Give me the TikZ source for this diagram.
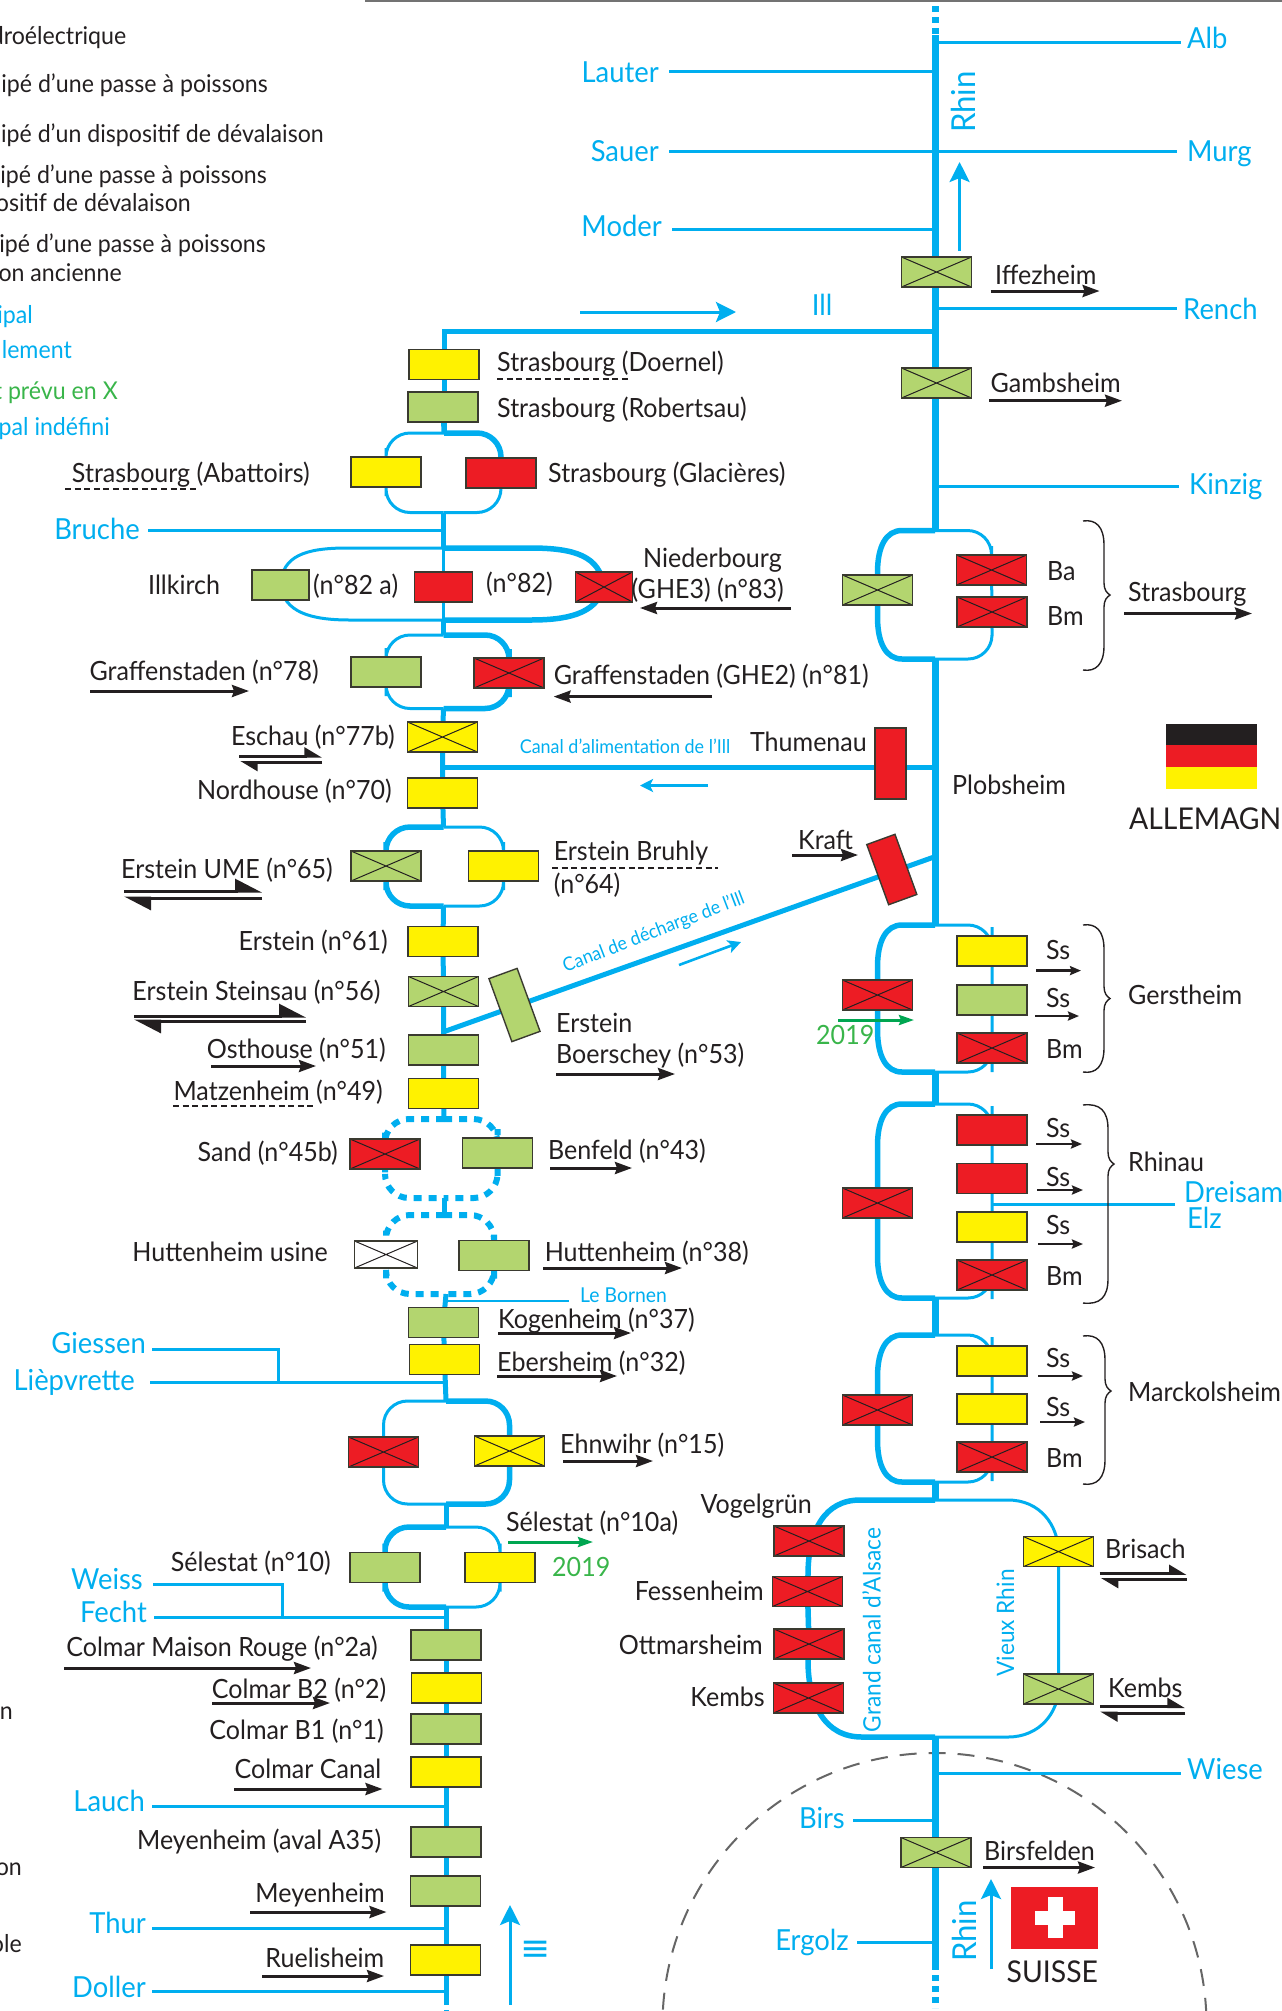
\documentclass[tikz,border=0pt]{standalone}
\usepackage{fontspec}
\setmainfont[FakeStretch=0.945]{Lato}
\newfontfamily\symfont{DejaVu Sans}
\usetikzlibrary{arrows.meta,calc}
\definecolor{riv}{HTML}{00AEEF}
\definecolor{rd}{HTML}{ED1C24}
\definecolor{yl}{HTML}{FFF200}
\definecolor{gn}{HTML}{B3D56F}
\definecolor{ink}{HTML}{231F20}
\definecolor{gtx}{HTML}{39B54A}
\definecolor{gar}{HTML}{00A651}
\definecolor{edge}{HTML}{3A3A30}
\pgfdeclarelayer{bg}
\pgfsetlayers{bg,main}
\tikzset{
 dam/.style={draw=edge,line width=1.4pt,minimum width=70pt,minimum height=30pt,inner sep=0pt,outer sep=0pt},
 damY/.style={dam,fill=yl},
 damG/.style={dam,fill=gn},
 damR/.style={dam,fill=rd},
 xbox/.style={path picture={\draw[line width=1pt,ink]
   (path picture bounding box.north west)--(path picture bounding box.south east)
   (path picture bounding box.north east)--(path picture bounding box.south west);}},
 lbl/.style={font=\fontsize{26.5}{30}\selectfont,text=ink,inner sep=0pt,text height=21pt,text depth=3pt},
 rname/.style={font=\fontsize{29}{32}\selectfont,text=riv,inner sep=0pt,text height=23pt,text depth=4pt},
 leg/.style={font=\fontsize{24.5}{28}\selectfont,text=ink,inner sep=0pt,text height=18pt,text depth=4pt},
 rivMain/.style={draw=riv,line width=7pt},
 rivAxis/.style={draw=riv,line width=5pt},
 rivBold/.style={draw=riv,line width=5.5pt},
 rivThin/.style={draw=riv,line width=3pt},
 rivDash/.style={draw=riv,line width=6pt,dash pattern=on 8pt off 7pt},
 rc/.style={rounded corners=24pt},
 flow/.style={draw=ink,line width=3pt,-{Stealth[length=17pt,width=12pt,inset=2pt]}},
 flowS/.style={draw=ink,line width=2.4pt,-{Stealth[length=11pt,width=9pt,inset=1.5pt]}},
 flowH/.style={draw=ink,line width=3pt,-{Stealth[harpoon,length=24pt,width=24pt,inset=0pt]}},
 flowHs/.style={draw=ink,line width=3pt,-{Stealth[harpoon,length=15pt,width=17pt,inset=0pt]}},
 dashu/.style={draw=ink,line width=2.4pt,dash pattern=on 6pt off 3.6pt},
 gflow/.style={draw=gar,line width=3pt,-{Stealth[length=15pt,width=10pt,inset=2pt]}},
 barr/.style={draw=riv,line width=3pt,-{Stealth[length=20pt,width=20pt,inset=4pt]}},
 barrS/.style={draw=riv,line width=2.6pt,-{Stealth[length=13pt,width=13pt,inset=3pt]}},
 braceL/.style={draw=ink,line width=1.4pt},
}
\newcommand{\TW}[5][lbl]{\node[#1,anchor=west] (#2) at (#3,#4) {#5};}
\newcommand{\TE}[5][lbl]{\node[#1,anchor=east] (#2) at (#3,#4) {#5};}
\newcommand{\Fl}[4][flow]{\coordinate (fa) at (#2,#4);\coordinate (fb) at (#3,#4);\draw[#1] (fa) -- (fb);}
\newcommand{\Bra}[6]{\draw[braceL] (#1,#3) .. controls (#2-8,#3-2) and (#2,#3+6) .. (#2,#3+24) -- (#2,#4-12) .. controls (#2,#4-5) and (#2+3,#4-2) .. (#2+6,#4) .. controls (#2+3,#4+2) and (#2,#4+5) .. (#2,#4+12) -- (#2,#5-24) .. controls (#2,#5-6) and (#2-8,#5+2) .. (#1,#5);}
\newcommand{\EllL}[6]{\draw[#1] (#2) -- (902,#5) .. controls (886,#5) and (877.5,#5+16) .. (877.5,#5+42) -- (#4) -- (877.5,#6-42) .. controls (877.5,#6-16) and (886,#6) .. (902,#6) -- (#3);}
\begin{document}
\begin{tikzpicture}[x=1pt,y=-1pt]
\useasboundingbox (0,0) rectangle (1282,2011);
\clip (0,0) rectangle (1282,2011);

% ---------- junctions
\coordinate (rTop) at (935,35);
\coordinate (rDot) at (935,6);
\coordinate (jAlb) at (935,42.7);
\coordinate (jLauter) at (935,71);
\coordinate (jSauer) at (935,151);
\coordinate (jModer) at (935,229);
\coordinate (jRench) at (935,308);
\coordinate (jIll) at (935,331);
\coordinate (aTop) at (444,331);
\coordinate (jKinzig) at (935,486);
\coordinate (sT) at (935,530.5);
\coordinate (sB) at (935,659);
\coordinate (jCanal) at (935,767);
\coordinate (aCanal) at (443,767);
\coordinate (jKraft) at (934,857);
\coordinate (aDech) at (443,1032);
\coordinate (gT) at (935,925);
\coordinate (gB) at (935,1072);
\coordinate (rhT) at (935,1104);
\coordinate (rhB) at (935,1298);
\coordinate (mT) at (935,1335);
\coordinate (mB) at (935,1482);
\coordinate (cT) at (935,1500);
\coordinate (cB) at (935,1737);
\coordinate (jWiese) at (935,1773);
\coordinate (jBirs) at (935,1820);
\coordinate (jErgolz) at (935,1942);
\coordinate (rEnd) at (935,1964);
\coordinate (rEndD) at (935,2008);
\coordinate (a1T) at (444,433);
\coordinate (a1B) at (443.5,512.5);
\coordinate (jBruche) at (443.5,530);
\coordinate (a2T) at (443.5,548);
\coordinate (a2B) at (443.5,620);
\coordinate (a3T) at (443.5,635);
\coordinate (a3B) at (443.5,708.5);
\coordinate (a4T) at (443.5,827);
\coordinate (a4B) at (443.5,906);
\coordinate (a5T) at (444,1119);
\coordinate (a5B) at (444,1198);
\coordinate (a6T) at (444,1215);
\coordinate (a6B) at (444,1294);
\coordinate (a6c) at (446,1294);
\coordinate (jBornen) at (446,1301);
\coordinate (jLiep) at (446,1382);
\coordinate (a7T) at (446,1401);
\coordinate (a7B) at (446,1504);
\coordinate (a8T) at (446,1527);
\coordinate (a8B) at (446,1607);
\coordinate (jFecht) at (446,1617);
\coordinate (jLauch) at (446,1806);
\coordinate (jThur) at (446,1928);
\coordinate (jDoller) at (446,1991);
\coordinate (aEnd) at (446,2000);
\coordinate (aEndD) at (446,2011);
\coordinate (bendG) at (278,1349);
\coordinate (bendGb) at (278,1382);
\coordinate (bendW) at (282,1584);
\coordinate (bendWb) at (282,1617);

% ---------- dams, left branch
\node[damY] (dDoernel) at (444,364.5) {};
\node[damG] (dRobert) at (443,407) {};
\node[damY] (dAbat) at (386,472) {};
\node[damR] (dGlac) at (501,473) {};
\node[damG,minimum width=57pt] (dIllk) at (280.5,585) {};
\node[damR,minimum width=58pt] (d82) at (443.5,587) {};
\node[damR,xbox,minimum width=57pt] (d83) at (604,587) {};
\node[damG] (d78) at (386,672) {};
\node[damR,xbox] (d81) at (509,673) {};
\node[damY,xbox] (d77) at (442.5,737) {};
\node[damY] (d70) at (442.5,793) {};
\node[damG,xbox] (d65) at (386,866) {};
\node[damY] (d64) at (503.5,866) {};
\node[damY] (d61) at (443,941.5) {};
\node[damG,xbox] (d56) at (443.5,991.5) {};
\node[damG,rotate=20,minimum width=30pt,minimum height=67pt] (d53) at (514.5,1005) {};
\node[damG] (d51) at (443.5,1050) {};
\node[damY] (d49) at (443.5,1093.5) {};
\node[damR,xbox] (d45) at (385,1154) {};
\node[damG] (d43) at (497.5,1153) {};
\node[dam,fill=white,xbox,minimum width=63pt,minimum height=27pt] (dHu) at (386,1254.5) {};
\node[damG] (d38) at (494,1255.5) {};
\node[damG] (d37) at (443.5,1322.5) {};
\node[damY] (d32) at (444.5,1359.5) {};
\node[damR,xbox] (dEhL) at (383.5,1452) {};
\node[damY,xbox] (d15) at (509.5,1451) {};
\node[damG] (d10) at (385,1567.5) {};
\node[damY] (d10a) at (500,1567.5) {};
\node[damG] (d2a) at (446,1645) {};
\node[damY] (d2) at (446.5,1688) {};
\node[damG] (d1) at (446,1729) {};
\node[damY] (dCan) at (446,1772) {};
\node[damG] (dA35) at (446,1842) {};
\node[damG] (dMey) at (445.5,1891) {};
\node[damY] (dRue) at (445.5,1960) {};

% ---------- dams, right branch
\node[damG,xbox] (dIff) at (936.5,272) {};
\node[damG,xbox] (dGam) at (936.5,383) {};
\node[damG,xbox] (dSL) at (877.5,590) {};
\node[damR,xbox] (dBa) at (991.5,570) {};
\node[damR,xbox] (dBm) at (992,612) {};
\node[damR,minimum width=31pt,minimum height=71pt] (dThu) at (890.5,763.5) {};
\node[damR,rotate=20,minimum width=30pt,minimum height=64pt] (dKraft) at (891.8,869.5) {};
\node[damR,xbox] (dGeL) at (877.5,995) {};
\node[damY] (dGe1) at (992,951) {};
\node[damG] (dGe2) at (992,1000) {};
\node[damR,xbox] (dGe3) at (992,1048) {};
\node[damR,xbox] (dRhL) at (877.5,1203) {};
\node[damR] (dRh1) at (992,1130) {};
\node[damR] (dRh2) at (992,1178.5) {};
\node[damY] (dRh3) at (992,1227) {};
\node[damR,xbox] (dRh4) at (992,1275) {};
\node[damR,xbox] (dMaL) at (877.5,1410) {};
\node[damY] (dMa1) at (992,1361) {};
\node[damY] (dMa2) at (992,1409) {};
\node[damR,xbox] (dMa3) at (992,1457) {};
\node[damR,xbox] (dVog) at (809,1541) {};
\node[damR,xbox] (dFes) at (807.5,1591.5) {};
\node[damR,xbox] (dOtt) at (809,1644) {};
\node[damR,xbox] (dKeL) at (808.5,1698) {};
\node[damY,xbox] (dBri) at (1058.5,1551.6) {};
\node[damG,xbox] (dKeR) at (1058.5,1689) {};
\node[damG,xbox] (dBir) at (936,1852.5) {};

% ---------- river names
\TE[rname]{lLauter}{659}{73}{Lauter}
\TE[rname]{lSauer}{659}{152}{Sauer}
\TE[rname]{lModer}{662}{227}{Moder}
\TW[rname]{lAlb}{1187}{39}{Alb}
\TW[rname]{lMurg}{1187}{152}{Murg}
\TW[rname]{lRench}{1183}{310}{Rench}
\TW[rname]{lKinzig}{1189}{485}{Kinzig}
\TE[rname]{lBruche}{140}{530}{Bruche}
\TE[rname]{lGiessen}{146}{1344}{Giessen}
\TE[rname]{lLiep}{135}{1381}{Lièpvrette}
\TE[rname]{lWeiss}{143}{1580}{Weiss}
\TE[rname]{lFecht}{147}{1613}{Fecht}
\TE[rname]{lLauch}{145}{1802}{Lauch}
\TE[rname]{lThur}{146}{1924}{Thur}
\TE[rname]{lDoller}{146}{1988}{Doller}
\TW[rname]{lDreisam}{1184}{1193}{Dreisam}
\TW[rname]{lElz}{1187}{1219}{Elz}
\TW[rname]{lWiese}{1187}{1770}{Wiese}
\TE[rname]{lBirs}{845}{1819}{Birs}
\TE[rname]{lErgolz}{849}{1941}{Ergolz}
\node[rname,rotate=90,font=\fontsize{33}{36}\selectfont] (tRhinN) at (966,102) {Rhin};
\node[rname,rotate=90,font=\fontsize{33}{36}\selectfont] (tRhinS) at (967,1931) {Rhin};
\node[rname] (tIll) at (822,306) {Ill};
\node[rname,font=\fontsize{24}{28}\selectfont,rotate=90] (tGCA) at (871,1630) {Grand canal d'Alsace};
\node[rname,font=\fontsize{24}{28}\selectfont,rotate=90] (tVR) at (1004.5,1623) {Vieux Rhin};
\node[rname,font=\fontsize{19}{22}\selectfont,text height=14pt,text depth=4pt] (tCanA) at (625,748) {Canal d'alimentation de l'Ill};
\node[rname,font=\fontsize{18.8}{22}\selectfont,rotate=21,text height=14pt,text depth=4pt] (tCanD) at (654,933) {Canal de décharge de l'Ill};
\TW[{rname,font=\fontsize{20.5}{24}\selectfont,text height=15pt,text depth=4pt}]{tBornen}{580}{1297}{Le Bornen}

% ---------- black labels
\TW{tDoe}{497}{362}{Strasbourg (Doernel)}
\TW{tRob}{497}{408}{Strasbourg (Robertsau)}
\TE{tAba}{310}{473}{Strasbourg (Abattoirs)}
\TW{tGla}{548}{473}{Strasbourg (Glacières)}
\TW{tIllk}{148}{585}{Illkirch}
\TW{t82a}{313}{585}{(n°82 a)}
\TW{t82}{486}{583}{(n°82)}
\TW{tNie}{643}{558}{Niederbourg}
\TE{t83}{784}{589}{(GHE3) (n°83)}
\TE{t78}{319}{671}{Graffenstaden (n°78)}
\TW{t81}{553.6}{675}{Graffenstaden (GHE2) (n°81)}
\TE{t77}{395}{736}{Eschau (n°77b)}
\TE{t70}{392}{790}{Nordhouse (n°70)}
\TE{t65}{333}{869}{Erstein UME (n°65)}
\TW{t64a}{553.6}{851}{Erstein Bruhly}
\TW{t64b}{553.6}{884}{(n°64)}
\TE{t61}{388}{941}{Erstein (n°61)}
\TE{t56}{380.6}{991}{Erstein Steinsau (n°56)}
\TE{t51}{386}{1049}{Osthouse (n°51)}
\TW{t53a}{556}{1023}{Erstein}
\TW{t53b}{556}{1054}{Boerschey (n°53)}
\TE{t49}{383}{1091}{Matzenheim (n°49)}
\TE{t45}{338}{1152}{Sand (n°45b)}
\TW{t43}{548}{1150}{Benfeld (n°43)}
\TE{tHu}{328}{1252}{Huttenheim usine}
\TW{t38}{544.6}{1252}{Huttenheim (n°38)}
\TW{t37}{498}{1319}{Kogenheim (n°37)}
\TW{t32}{497}{1362}{Ebersheim (n°32)}
\TW{t15}{560}{1444}{Ehnwihr (n°15)}
\TW{t10a}{506}{1522}{Sélestat (n°10a)}
\TE{t10}{331}{1562}{Sélestat (n°10)}
\TE{t2a}{378}{1647}{Colmar Maison Rouge (n°2a)}
\TE{t2}{386.5}{1689}{Colmar B2 (n°2)}
\TE{t1}{384}{1730}{Colmar B1 (n°1)}
\TE{tCan}{381.6}{1769}{Colmar Canal}
\TE{tA35}{381.6}{1840}{Meyenheim (aval A35)}
\TE{tMey}{385}{1893}{Meyenheim}
\TE{tRue}{384.5}{1958}{Ruelisheim}
\TW{tIff}{995}{275}{Iffezheim}
\TW{tGam}{990.5}{383}{Gambsheim}
\TW{tBa}{1047}{571}{Ba}
\TW{tBmS}{1047}{616}{Bm}
\TW{tStr}{1128}{592}{Strasbourg}
\TE{tThu}{867}{742}{Thumenau}
\TW{tPlo}{952}{785}{Plobsheim}
\TW{tKra}{798}{840}{Kraft}
\TW{tS1}{1046}{950}{Ss}
\TW{tS2}{1046}{998.5}{Ss}
\TW{tBmG}{1046}{1049.5}{Bm}
\TW{tGer}{1128}{995.5}{Gerstheim}
\TW{tS3}{1046}{1128}{Ss}
\TW{tS4}{1046}{1177}{Ss}
\TW{tS5}{1046}{1225}{Ss}
\TW{tBmR}{1046}{1276}{Bm}
\TW{tRhi}{1128}{1162}{Rhinau}
\TW{tS6}{1046}{1358}{Ss}
\TW{tS7}{1046}{1407}{Ss}
\TW{tBmM}{1046}{1458}{Bm}
\TW{tMar}{1128}{1392}{Marckolsheim}
\TE{tVog}{812}{1504}{Vogelgrün}
\TE{tFes}{764}{1591}{Fessenheim}
\TE{tOtt}{763}{1645}{Ottmarsheim}
\TE{tKeL}{765}{1697}{Kembs}
\TW{tBri}{1105}{1549.5}{Brisach}
\TW{tKeR}{1108}{1688}{Kembs}
\TW{tBir}{984}{1851}{Birsfelden}
\TW[{lbl,font=\fontsize{30}{34}\selectfont,text height=23pt,text depth=3pt}]{tDE}{1129}{819}{ALLEMAGN}
\TW[{lbl,font=\fontsize{30}{34}\selectfont,text height=23pt,text depth=3pt}]{tCH}{1006.5}{1972}{SUISSE}
\TW[{lbl,text=gtx}]{t2019a}{816}{1035}{2019}
\TW[{lbl,text=gtx}]{t2019b}{552}{1567}{2019}

% ---------- clipped legend fragments
\TE[leg]{lg1}{126.5}{37}{droélectrique}
\TE[leg]{lg2}{268}{85}{uipé d'une passe à poissons}
\TE[leg]{lg3}{324}{135}{uipé d'un dispositif de dévalaison}
\TE[leg]{lg4}{267}{176}{uipé d'une passe à poissons}
\TE[leg]{lg5}{191}{204}{ositif de dévalaison}
\TE[leg]{lg6}{266}{245}{uipé d'une passe à poissons}
\TE[leg]{lg7}{122}{274}{on ancienne}
\TE[{leg,text=riv}]{lg8}{33}{316}{ipal}
\TE[{leg,text=riv}]{lg9}{72}{351}{lement}
\TE[{leg,text=gtx}]{lg10}{118}{392}{t prévu en X}
\TE[{leg,text=riv}]{lg11}{110}{428}{pal indéfini}
\TE[leg]{lg12}{13}{1712}{on}
\TE[leg]{lg13}{22}{1868}{on}
\TE[leg]{lg14}{22}{1945}{ole}
\node[text=riv,font=\symfont\fontsize{36}{40}\selectfont,inner sep=0pt] (tEq) at (536,1951) {≡};

% ---------- flow arrows
\Fl[flow]{990.5}{1099.6}{291}
\Fl[flow]{989}{1122}{400.7}
\Fl[flow]{791}{640}{608}
\Fl[flow]{90}{249}{691}
\Fl[flow]{712}{553.6}{696.6}
\Fl[flowHs]{239}{322}{756}
\Fl[flowHs]{322}{240}{762.5}
\Fl[flowH]{124}{262}{891}
\Fl[flowH]{262}{124}{898}
\Fl[flowH]{134}{306}{1016}
\Fl[flowH]{306}{134}{1021}
\Fl[flow]{211}{316}{1066}
\Fl[flow]{556}{675}{1074}
\Fl[flow]{550}{632}{1168}
\Fl[flow]{543}{682}{1268}
\Fl[flow]{498}{631}{1333}
\Fl[flow]{497}{617}{1376}
\Fl[flow]{563}{653}{1461}
\Fl[flow]{64}{311}{1668}
\Fl[flow]{212}{330}{1703}
\Fl[flow]{234}{382.5}{1789}
\Fl[flow]{250}{386.5}{1912}
\Fl[flow]{262}{384}{1976}
\Fl[flow]{1124}{1252}{613.5}
\Fl[flow]{792}{858}{855}
\Fl[flowS]{1036}{1081}{970.6}
\Fl[flowS]{1035}{1079}{1016}
\Fl[flowS]{1036}{1082}{1144}
\Fl[flowS]{1037}{1083}{1190}
\Fl[flowS]{1038}{1083}{1244}
\Fl[flowS]{1038}{1083}{1376}
\Fl[flowS]{1040}{1085}{1422}
\Fl[flowHs]{1099.5}{1186.7}{1573.4}
\Fl[flowHs]{1186.7}{1100.7}{1579.5}
\Fl[flowHs]{1100}{1185}{1706.5}
\Fl[flowHs]{1185}{1100}{1713}
\Fl[flow]{983}{1095}{1867.5}
\Fl[dashu]{497}{630}{379}
\Fl[dashu]{65}{198}{489}
\Fl[dashu]{552}{718}{868}
\Fl[dashu]{173}{316}{1106}
\Fl[gflow]{838}{914}{1020}
\Fl[gflow]{508}{593}{1542}

% ---------- blue direction arrows
\coordinate (b1a) at (959.6,251); \coordinate (b1b) at (959.6,162);
\draw[barr] (b1a) -- (b1b);
\coordinate (b2a) at (580,312); \coordinate (b2b) at (736,312);
\draw[barr] (b2a) -- (b2b);
\coordinate (b3a) at (708,785.5); \coordinate (b3b) at (640,785.5);
\draw[barrS] (b3a) -- (b3b);
\coordinate (b4a) at (679,965); \coordinate (b4b) at (741,942);
\draw[barrS] (b4a) -- (b4b);
\coordinate (b5a) at (510,2005); \coordinate (b5b) at (510,1905);
\draw[barr] (b5a) -- (b5b);
\coordinate (b6a) at (991,1969); \coordinate (b6b) at (991,1879);
\draw[barr] (b6a) -- (b6b);

% ---------- braces
\Bra{1083}{1104}{521}{595}{670}{}
\Bra{1083}{1104}{925}{998.5}{1072}{}
\Bra{1083}{1108}{1105}{1164}{1303}{}
\Bra{1083}{1105}{1336}{1391}{1484}{}

% ---------- flags
\fill[ink] (1166,724) rectangle (1257,745);
\fill[rd] (1166,745) rectangle (1257,767);
\fill[yl] (1166,767) rectangle (1257,789);
\fill[rd] (1010.6,1887) rectangle (1098,1949);
\fill[white] (1035,1911) rectangle (1075,1925);
\fill[white] (1048,1897) rectangle (1062.6,1938);

% ---------- connectors behind the nodes
\begin{pgfonlayer}{bg}
\draw[draw=black!55,line width=2pt] (365,0.5) -- (1282,0.5);
\draw[draw=black!60,line width=2pt,dash pattern=on 17pt off 12pt] (934.5,2025) circle[radius=272];

% main Rhine
\draw[rivMain] (rTop) -- (sT);
\draw[rivMain,dash pattern=on 6pt off 5pt] (rDot) -- (rTop);
\draw[rivMain] (sB) -- (gT);
\draw[rivMain] (gB) -- (rhT);
\draw[rivMain] (rhB) -- (mT);
\draw[rivMain] (mB) -- (cT);
\draw[rivMain] (cB) -- (rEnd);
\draw[rivMain,dash pattern=on 6pt off 5pt] (rEnd) -- (rEndD);

% tributaries of the Rhine
\draw[rivThin,shorten >=6pt] (jAlb) -- (lAlb.west |- jAlb);
\draw[rivThin,shorten <=10pt] (lLauter.east |- jLauter) -- (jLauter);
\draw[rivThin,shorten <=10pt,shorten >=10pt] (lSauer.east |- jSauer) -- (lMurg.west |- jSauer);
\draw[rivThin,shorten <=10pt] (lModer.east |- jModer) -- (jModer);
\draw[rivThin,shorten >=6pt] (jRench) -- (lRench.west |- jRench);
\draw[rivThin,shorten >=10pt] (jKinzig) -- (lKinzig.west |- jKinzig);
\draw[rivThin,shorten >=6pt] (jWiese) -- (lWiese.west |- jWiese);
\draw[rivThin] (lBirs.east |- jBirs) ++(8,0) -- (jBirs);
\draw[rivThin] (lErgolz.east |- jErgolz) ++(8,0) -- (jErgolz);
\coordinate (jDrei) at (dRh2.center |- 0,1204);
\draw[rivThin,shorten >=9pt] (jDrei) -- (lDreisam.west |- jDrei);

% Ill and canals
\draw[rivAxis] (jIll) -- (aTop) -- (a1T);
\draw[rivAxis] (aCanal) -- (jCanal);
\draw[rivAxis] (aDech) -- (jKraft);

% Rhine loops
\EllL{rivBold}{sT}{sB}{dSL}{530.5}{659}
\EllL{rivBold}{gT}{gB}{dGeL}{925}{1072}
\EllL{rivBold}{rhT}{rhB}{dRhL}{1104}{1298}
\EllL{rivBold}{mT}{mB}{dMaL}{1335}{1482}
\draw[rivThin,rc] (sT) -| (dBa.center) -- (dBm.center) |- (sB);
\draw[rivThin,rc] (gT) -| (dGe1.center) -- (dGe2.center) -- (dGe3.center) |- (gB);
\draw[rivThin,rc] (rhT) -| (dRh1.center) -- (dRh2.center) -- (dRh3.center) -- (dRh4.center) |- (rhB);
\draw[rivThin,rc] (mT) -| (dMa1.center) -- (dMa2.center) -- (dMa3.center) |- (mB);

% Grand canal loop
\draw[rivBold] (cT) -- (860,1500) .. controls (825,1500) and (808,1530) .. (808,1575) -- (dFes.center) -- (dOtt.center) -- (808,1660);
\draw[rivBold] (808,1660) .. controls (808,1705) and (825,1737) .. (862,1737) -- (cB);
\draw[rivThin] (cT) -- (1008,1500) .. controls (1040,1500) and (1058,1525) .. (dBri.center) -- (dKeR.center) .. controls (1058,1712) and (1040,1737) .. (1008,1737) -- (cB);

% left axis
\draw[rivAxis] (a1T) -- (dRobert.center);
\draw[rivThin,rc] (a1T) -| (dAbat.center) |- (a1B);
\draw[rivBold,rc] (a1T) -| (dGlac.center);
\draw[rivThin,rc] (dGlac.center) |- (a1B);
\draw[rivAxis] (a1B) -- (a2T);
\draw[rivThin,shorten <=8pt] (lBruche.east |- jBruche) -- (jBruche);
\draw[rivThin] (a2T) -- (d82) -- (a2B);
\draw[rivThin] (a2T) -- (347,548) .. controls (305,548) and (282,556) .. (dIllk.center);
\draw[rivThin] (dIllk.center) .. controls (284,612) and (310,620) .. (350,620) -- (a2B);
\draw[rivBold] (a2T) -- (530,548) .. controls (575,548) and (600,556) .. (d83.center);
\draw[rivBold] (d83.center) .. controls (596,615) and (565,620) .. (530,620) -- (a2B);
\draw[rivAxis] (a2B) -- (a3T);
\draw[rivThin,rc] (a3T) -| (d78.center) |- (a3B);
\draw[rivBold,rc] (a3T) -| (d81.center) |- (a3B);
\draw[rivAxis] (a3B) -- (d77) -- (d70) -- (a4T);
\draw[rivBold,rc] (a4T) -| (d65.center) |- (a4B);
\draw[rivThin,rc] (a4T) -| (d64.center) |- (a4B);
\draw[rivAxis] (a4B) -- (d61) -- (d56) -- (d51) -- (d49) -- (a5T);
\draw[rivDash,rc] (a5T) -| (d45.center) |- (a5B);
\draw[rivDash,rc] (a5T) -| (d43.center) |- (a5B);
\draw[rivAxis] (a5B) -- (a6T);
\draw[rivDash,rc] (a6T) -| (dHu.center) |- (a6B);
\draw[rivDash,rc] (a6T) -| (d38.center) |- (a6B);
\draw[rivAxis] (a6c) -- (d37.center) -- (d32.center) -- (a7T);
\draw[draw=riv,line width=2pt] (jBornen) -- (569,1301);
\draw[rivThin,shorten <=6pt] (lGiessen.east |- bendG) -- (bendG) -- (bendGb);
\draw[rivThin,shorten <=15pt] (lLiep.east |- jLiep) -- (jLiep);
\draw[rivThin,rc] (a7T) -| (dEhL.center) |- (a7B);
\draw[rivBold,rc] (a7T) -| (d15.center) |- (a7B);
\draw[rivAxis] (a7B) -- (a8T);
\draw[rivBold,rc] (a8T) -| (d10.center) |- (a8B);
\draw[rivThin,rc] (a8T) -| (d10a.center) |- (a8B);
\draw[rivAxis] (a8B) -- (aEnd);
\draw[rivAxis,dash pattern=on 5pt off 5pt] (aEnd) -- (aEndD);
\draw[rivThin,shorten <=10pt] (lWeiss.east |- bendW) -- (bendW) -- (bendWb);
\draw[rivThin,shorten <=7pt] (lFecht.east |- jFecht) -- (jFecht);
\draw[rivThin,shorten <=7pt] (lLauch.east |- jLauch) -- (jLauch);
\draw[rivThin,shorten <=6pt] (lThur.east |- jThur) -- (jThur);
\draw[rivThin,shorten <=6pt] (lDoller.east |- jDoller) -- (jDoller);
\end{pgfonlayer}
\end{tikzpicture}
\end{document}
